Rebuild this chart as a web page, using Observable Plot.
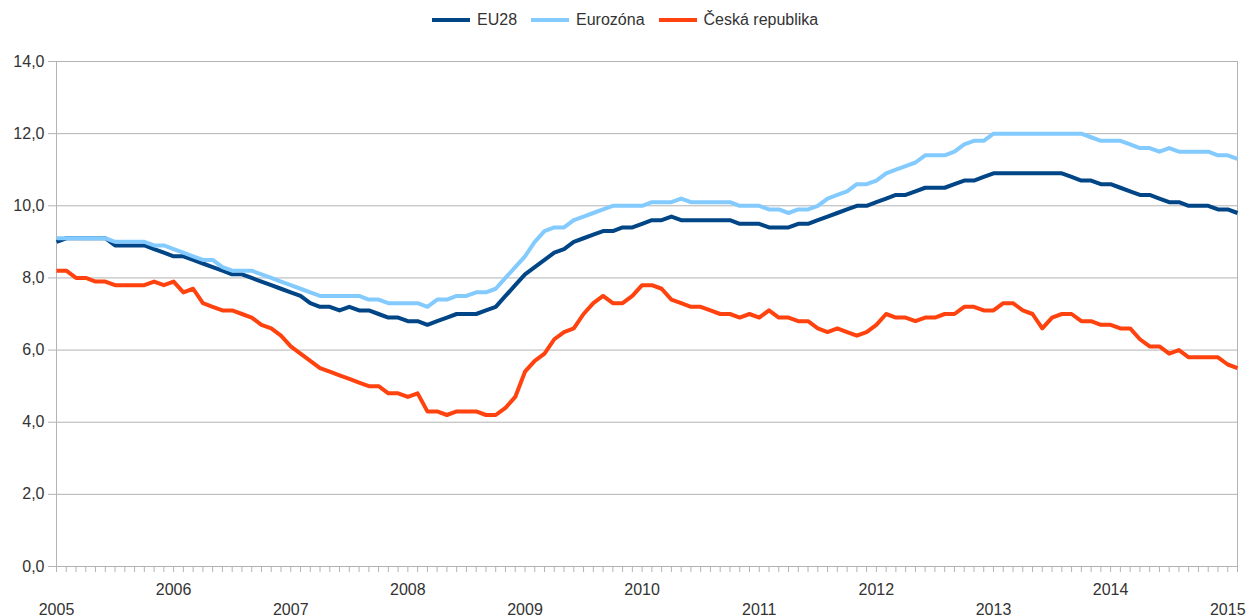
<!DOCTYPE html>
<html>
<head>
<meta charset="utf-8">
<script src="https://cdn.jsdelivr.net/npm/d3@7"></script>
<script src="https://cdn.jsdelivr.net/npm/@observablehq/plot@0.6"></script>
<style>
  html, body { margin: 0; padding: 0; background: #fff; }
  body { width: 1246px; height: 616px; overflow: hidden; font-family: "Liberation Sans", Arial, sans-serif; }
  #legend { position: relative; height: 40px; display: flex; align-items: center; padding-left: 432px; box-sizing: border-box; font-size: 16px; color: #333; }
  .item { display: flex; align-items: center; margin-right: 14px; }
  .sw { width: 38px; height: 4px; margin-right: 7px; }
</style>
</head>
<body>
<div id="legend"></div>
<div id="chart"></div>
<script>
// Monthly data, January 2005 – February 2015
const startYear = 2005;
const seriesNames = ["EU28", "Eurozóna", "Česká republika"];
const seriesColors = ["#004586", "#83caff", "#ff420e"];

const eu28 = [
  9.0, 9.1, 9.1, 9.1, 9.1, 9.1, 8.9, 8.9, 8.9, 8.9, 8.8, 8.7,
  8.6, 8.6, 8.5, 8.4, 8.3, 8.2, 8.1, 8.1, 8.0, 7.9, 7.8, 7.7,
  7.6, 7.5, 7.3, 7.2, 7.2, 7.1, 7.2, 7.1, 7.1, 7.0, 6.9, 6.9,
  6.8, 6.8, 6.7, 6.8, 6.9, 7.0, 7.0, 7.0, 7.1, 7.2, 7.5, 7.8,
  8.1, 8.3, 8.5, 8.7, 8.8, 9.0, 9.1, 9.2, 9.3, 9.3, 9.4, 9.4,
  9.5, 9.6, 9.6, 9.7, 9.6, 9.6, 9.6, 9.6, 9.6, 9.6, 9.5, 9.5,
  9.5, 9.4, 9.4, 9.4, 9.5, 9.5, 9.6, 9.7, 9.8, 9.9, 10.0, 10.0,
  10.1, 10.2, 10.3, 10.3, 10.4, 10.5, 10.5, 10.5, 10.6, 10.7, 10.7, 10.8,
  10.9, 10.9, 10.9, 10.9, 10.9, 10.9, 10.9, 10.9, 10.8, 10.7, 10.7, 10.6,
  10.6, 10.5, 10.4, 10.3, 10.3, 10.2, 10.1, 10.1, 10.0, 10.0, 10.0, 9.9,
  9.9, 9.8
];

const eurozona = [
  9.1, 9.1, 9.1, 9.1, 9.1, 9.1, 9.0, 9.0, 9.0, 9.0, 8.9, 8.9,
  8.8, 8.7, 8.6, 8.5, 8.5, 8.3, 8.2, 8.2, 8.2, 8.1, 8.0, 7.9,
  7.8, 7.7, 7.6, 7.5, 7.5, 7.5, 7.5, 7.5, 7.4, 7.4, 7.3, 7.3,
  7.3, 7.3, 7.2, 7.4, 7.4, 7.5, 7.5, 7.6, 7.6, 7.7, 8.0, 8.3,
  8.6, 9.0, 9.3, 9.4, 9.4, 9.6, 9.7, 9.8, 9.9, 10.0, 10.0, 10.0,
  10.0, 10.1, 10.1, 10.1, 10.2, 10.1, 10.1, 10.1, 10.1, 10.1, 10.0, 10.0,
  10.0, 9.9, 9.9, 9.8, 9.9, 9.9, 10.0, 10.2, 10.3, 10.4, 10.6, 10.6,
  10.7, 10.9, 11.0, 11.1, 11.2, 11.4, 11.4, 11.4, 11.5, 11.7, 11.8, 11.8,
  12.0, 12.0, 12.0, 12.0, 12.0, 12.0, 12.0, 12.0, 12.0, 12.0, 11.9, 11.8,
  11.8, 11.8, 11.7, 11.6, 11.6, 11.5, 11.6, 11.5, 11.5, 11.5, 11.5, 11.4,
  11.4, 11.3
];

const cesko = [
  8.2, 8.2, 8.0, 8.0, 7.9, 7.9, 7.8, 7.8, 7.8, 7.8, 7.9, 7.8,
  7.9, 7.6, 7.7, 7.3, 7.2, 7.1, 7.1, 7.0, 6.9, 6.7, 6.6, 6.4,
  6.1, 5.9, 5.7, 5.5, 5.4, 5.3, 5.2, 5.1, 5.0, 5.0, 4.8, 4.8,
  4.7, 4.8, 4.3, 4.3, 4.2, 4.3, 4.3, 4.3, 4.2, 4.2, 4.4, 4.7,
  5.4, 5.7, 5.9, 6.3, 6.5, 6.6, 7.0, 7.3, 7.5, 7.3, 7.3, 7.5,
  7.8, 7.8, 7.7, 7.4, 7.3, 7.2, 7.2, 7.1, 7.0, 7.0, 6.9, 7.0,
  6.9, 7.1, 6.9, 6.9, 6.8, 6.8, 6.6, 6.5, 6.6, 6.5, 6.4, 6.5,
  6.7, 7.0, 6.9, 6.9, 6.8, 6.9, 6.9, 7.0, 7.0, 7.2, 7.2, 7.1,
  7.1, 7.3, 7.3, 7.1, 7.0, 6.6, 6.9, 7.0, 7.0, 6.8, 6.8, 6.7,
  6.7, 6.6, 6.6, 6.3, 6.1, 6.1, 5.9, 6.0, 5.8, 5.8, 5.8, 5.8,
  5.6, 5.5
];

const yTicks = [0, 2, 4, 6, 8, 10, 12, 14];
const yearLabelsUpper = [2006, 2008, 2010, 2012, 2014];
const yearLabelsLower = [2005, 2007, 2009, 2011, 2013, 2015];

// Build table
const seriesValues = [eu28, eurozona, cesko];
const rows = [];
seriesValues.forEach((vals, s) => {
  vals.forEach((v, i) => rows.push({series: seriesNames[s], t: startYear + i / 12, value: v}));
});
const nMonths = eu28.length;
const xEnd = startYear + (nMonths - 1) / 12;
const monthTicks = d3.range(nMonths).map(i => startYear + i / 12);

// Legend
const legend = document.getElementById("legend");
seriesNames.forEach((name, i) => {
  const item = document.createElement("div");
  item.className = "item";
  const sw = document.createElement("div");
  sw.className = "sw";
  sw.style.background = seriesColors[i];
  const label = document.createElement("span");
  label.textContent = name;
  item.appendChild(sw);
  item.appendChild(label);
  legend.appendChild(item);
});

const fmt = d => d.toFixed(1).replace(".", ",");
const grid = "#b3b3b3";

const chart = Plot.plot({
  width: 1246,
  height: 576,
  marginTop: 21,
  marginBottom: 50,
  marginLeft: 56,
  marginRight: 9,
  style: {fontFamily: "'Liberation Sans', Arial, sans-serif", fontSize: "16px", color: "#333", background: "#fff", overflow: "visible"},
  x: {domain: [startYear, xEnd], axis: null, label: null},
  y: {domain: [0, 14], axis: null, label: null},
  color: {domain: seriesNames, range: seriesColors},
  marks: [
    Plot.gridY(yTicks, {stroke: grid, strokeOpacity: 1, strokeWidth: 1}),
    Plot.ruleX([startYear, xEnd], {stroke: grid, strokeWidth: 1}),
    Plot.axisY(yTicks, {label: null, tickSize: 8, tickPadding: 4, tickFormat: fmt, stroke: grid, fill: "#333", fontSize: 16}),
    Plot.axisX(monthTicks, {label: null, tickSize: 6, tickFormat: () => "", stroke: grid}),
    Plot.axisX(yearLabelsUpper, {label: null, tickSize: 0, tickPadding: 17, tickFormat: d => String(d), fill: "#333", fontSize: 16}),
    Plot.axisX(yearLabelsLower, {label: null, tickSize: 0, tickPadding: 37, tickFormat: d => String(d), fill: "#333", fontSize: 16}),
    Plot.line(rows, {x: "t", y: "value", z: "series", stroke: "series", strokeWidth: 4, strokeLinejoin: "round", strokeLinecap: "butt"})
  ]
});
document.getElementById("chart").appendChild(chart);
</script>
</body>
</html>
